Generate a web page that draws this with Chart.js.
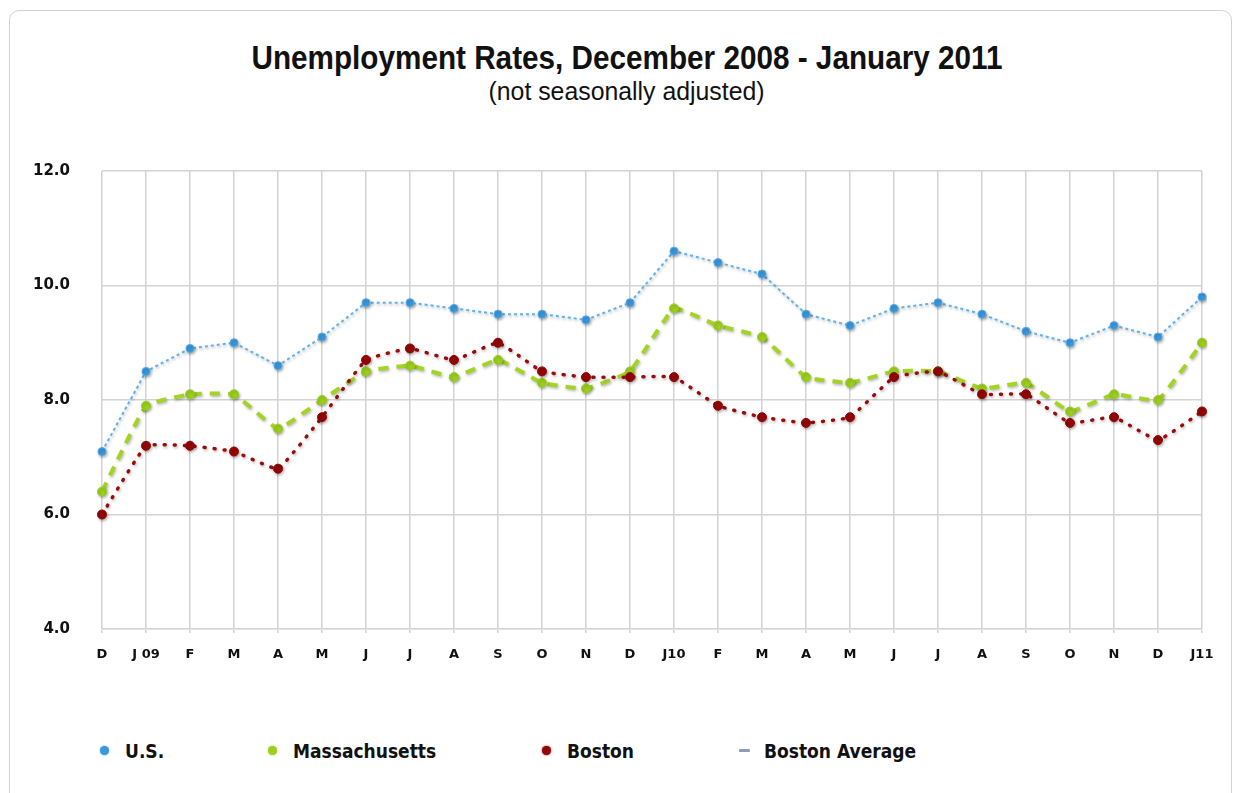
<!DOCTYPE html>
<html lang="en">
<head>
    <meta charset="UTF-8">
    <title>Unemployment Rates</title>
    <style>
        body {
            margin: 0;
            background: #ffffff;
            font-family: "Liberation Sans", Arial, sans-serif;
            overflow: hidden;
        }
        .card {
            position: absolute;
            left: 9px;
            top: 10px;
            width: 1221px;
            height: 800px;
            border: 1px solid #d2d2d2;
            border-radius: 10px;
        }
        .title {
            position: absolute;
            left: 20px;
            width: 1214px;
            text-align: center;
            color: #111;
        }
        .title .line {
            position: absolute;
            width: 100%;
            margin: 0;
        }
        .title .line span {
            display: inline-block;
            transform-origin: 50% 50%;
            white-space: nowrap;
        }
        .title h1 {
            top: 38px;
            font-size: 34px;
            line-height: 38px;
            font-weight: bold;
        }
        .title p {
            top: 77px;
            font-size: 26px;
            line-height: 28px;
        }
        .chart-box {
            position: absolute;
            left: 0;
            top: 130px;
            width: 1233px;
            height: 549px;
        }
        .legend {
            position: absolute;
            top: 738px;
            left: 0;
            width: 1233px;
            height: 26px;
        }
        .legend .item {
            position: absolute;
            top: 0;
            height: 26px;
            line-height: 26px;
            font-family: "DejaVu Sans Condensed", "DejaVu Sans", sans-serif;
            font-size: 19px;
            font-weight: bold;
            color: #111;
            white-space: nowrap;
        }
        .legend .mark {
            position: absolute;
            top: 8px;
            width: 9px;
            height: 9px;
            border-radius: 50%;
        }
        .legend .mark.dash {
            top: 11px;
            width: 11px;
            height: 3px;
            border-radius: 1px;
        }
    </style>
    <script src="https://cdn.jsdelivr.net/npm/chart.js"></script>
</head>
<body>
    <div class="card"></div>
    <div class="title">
        <h1 class="line"><span data-w="751">Unemployment Rates, December 2008 - January 2011</span></h1>
        <p class="line"><span data-w="276">(not seasonally adjusted)</span></p>
    </div>
    <div class="chart-box"><canvas id="rates"></canvas></div>
    <div class="legend" id="legend"></div>
    <script>
        // months from Dec 2008 through Jan 2011
        const months = ['D', 'J 09', 'F', 'M', 'A', 'M', 'J', 'J', 'A', 'S', 'O', 'N', 'D',
                        'J10', 'F', 'M', 'A', 'M', 'J', 'J', 'A', 'S', 'O', 'N', 'D', 'J11'];

        const usRate = [7.1, 8.5, 8.9, 9.0, 8.6, 9.1, 9.7, 9.7, 9.6, 9.5, 9.5, 9.4, 9.7,
                        10.6, 10.4, 10.2, 9.5, 9.3, 9.6, 9.7, 9.5, 9.2, 9.0, 9.3, 9.1, 9.8];
        const maRate = [6.4, 7.9, 8.1, 8.1, 7.5, 8.0, 8.5, 8.6, 8.4, 8.7, 8.3, 8.2, 8.5,
                        9.6, 9.3, 9.1, 8.4, 8.3, 8.5, 8.5, 8.2, 8.3, 7.8, 8.1, 8.0, 9.0];
        const bostonRate = [6.0, 7.2, 7.2, 7.1, 6.8, 7.7, 8.7, 8.9, 8.7, 9.0, 8.5, 8.4, 8.4,
                            8.4, 7.9, 7.7, 7.6, 7.7, 8.4, 8.5, 8.1, 8.1, 7.6, 7.7, 7.3, 7.8];
        const bostonAvg = [];   // listed in the key, no line plotted

        const yTicks = [4, 6, 8, 10, 12];

        const seriesNames = ['U.S.', 'Massachusetts', 'Boston', 'Boston Average'];

        // squeeze the headings into a condensed look
        document.querySelectorAll('.title span').forEach(el => {
            const w = el.getBoundingClientRect().width;
            el.style.transform = 'scaleX(' + (Number(el.dataset.w) / w) + ')';
        });

        // soft drop shadow under lines and markers
        const shadowPlugin = {
            id: 'markShadow',
            beforeDatasetDraw(chart) {
                const ctx = chart.ctx;
                ctx.save();
                ctx.shadowColor = 'rgba(0, 0, 0, 0.3)';
                ctx.shadowBlur = 3;
                ctx.shadowOffsetX = 1;
                ctx.shadowOffsetY = 1.5;
            },
            afterDatasetDraw(chart) {
                chart.ctx.restore();
            }
        };

        const ctx = document.getElementById('rates').getContext('2d');
        const chart = new Chart(ctx, {
            type: 'line',
            data: {
                labels: months,
                datasets: [
                    {
                        label: seriesNames[0],
                        data: usRate,
                        order: 2,
                        borderColor: '#62b2ea',
                        borderWidth: 2,
                        borderDash: [3, 3],
                        pointRadius: 4,
                        pointBackgroundColor: '#3a98dd',
                        pointBorderColor: '#56aae8',
                        pointBorderWidth: 1,
                        tension: 0
                    },
                    {
                        label: seriesNames[1],
                        data: maRate,
                        order: 1,
                        borderColor: '#a3d424',
                        borderWidth: 4,
                        borderDash: [10, 8],
                        pointRadius: 4.5,
                        pointBackgroundColor: '#9ccf1e',
                        pointBorderColor: '#9ccf1e',
                        pointBorderWidth: 1,
                        tension: 0.1
                    },
                    {
                        label: seriesNames[2],
                        data: bostonRate,
                        order: 0,
                        borderColor: '#980c0c',
                        borderWidth: 3.5,
                        borderDash: [1, 9],
                        borderCapStyle: 'round',
                        pointRadius: 4.5,
                        pointBackgroundColor: '#930606',
                        pointBorderColor: '#930606',
                        pointBorderWidth: 1,
                        tension: 0.1
                    },
                    {
                        label: seriesNames[3],
                        data: bostonAvg,
                        order: 3,
                        borderColor: '#8d9db8',
                        backgroundColor: '#8d9db8',
                        borderWidth: 3,
                        pointRadius: 0
                    }
                ]
            },
            options: {
                responsive: true,
                maintainAspectRatio: false,
                animation: false,
                layout: {
                    padding: { top: 0, right: 31, left: 0, bottom: 0 }
                },
                plugins: {
                    legend: { display: false },
                    tooltip: { enabled: false }
                },
                scales: {
                    x: {
                        offset: false,
                        afterFit: scale => { scale.height = 50; },
                        grid: {
                            offset: false,
                            color: '#d3d3d3',
                            lineWidth: 1.5,
                            drawTicks: true,
                            tickLength: 4
                        },
                        border: { color: '#e2e2e2', width: 1 },
                        ticks: {
                            autoSkip: false,
                            maxRotation: 0,
                            padding: 14,
                            color: '#111',
                            font: { family: 'DejaVu Sans', size: 13, weight: 'bold' }
                        }
                    },
                    y: {
                        min: 4,
                        max: 12,
                        afterFit: scale => { scale.width = 102; },
                        afterBuildTicks: scale => {
                            scale.ticks = yTicks.map(v => ({ value: v }));
                        },
                        grid: {
                            color: '#d3d3d3',
                            lineWidth: 1.5,
                            drawTicks: false
                        },
                        border: { display: false },
                        ticks: {
                            padding: 32,
                            color: '#111',
                            font: { family: 'DejaVu Sans', size: 15, weight: 'bold' },
                            callback: v => Number(v).toFixed(1)
                        }
                    }
                }
            },
            plugins: [shadowPlugin]
        });

        // key along the bottom, built from the datasets
        const legendLeft = [100, 268, 542, 739];
        const legendBox = document.getElementById('legend');
        chart.data.datasets.forEach((ds, i) => {
            const item = document.createElement('div');
            item.className = 'item';
            item.style.left = legendLeft[i] + 'px';
            item.style.paddingLeft = '25px';
            const mark = document.createElement('span');
            mark.className = ds.data.length ? 'mark' : 'mark dash';
            mark.style.left = '0px';
            mark.style.background = ds.pointBackgroundColor || ds.borderColor;
            if (ds.data.length) {
                mark.style.boxShadow = '0 0 2px ' + ds.borderColor;
            }
            item.appendChild(mark);
            item.appendChild(document.createTextNode(ds.label));
            legendBox.appendChild(item);
        });
    </script>
</body>
</html>
